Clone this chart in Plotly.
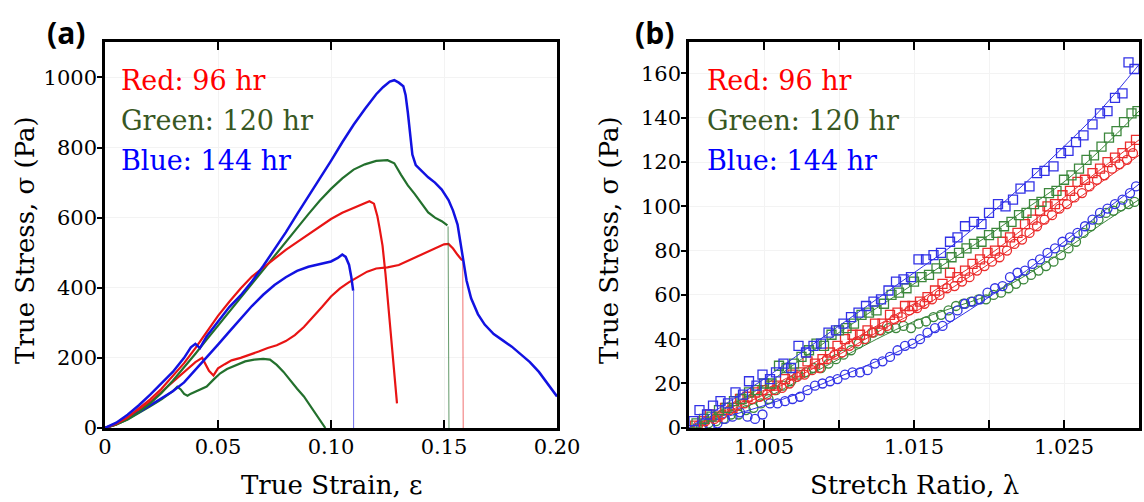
import plotly.graph_objects as go

# ---------------- Panel (a): true stress vs true strain ----------------
red1_eps = [0, 0.005, 0.010, 0.015, 0.020, 0.025, 0.030, 0.035, 0.040, 0.045, 0.050, 0.055, 0.060,
            0.065, 0.070, 0.075, 0.080, 0.085, 0.090, 0.095, 0.100, 0.105, 0.110, 0.114, 0.117,
            0.119, 0.1205, 0.1215, 0.1228, 0.1241, 0.1255, 0.1265, 0.1278, 0.1289, 0.1292]
red1_sig = [0, 12, 30, 55, 82, 112, 148, 185, 228, 275, 320, 360, 398,
            432, 458, 482, 508, 530, 552, 574, 596, 614, 628, 640, 647,
            640, 605, 570, 520, 440, 340, 250, 160, 85, 70]

red2_eps = [0, 0.005, 0.010, 0.015, 0.020, 0.025, 0.030, 0.035, 0.040, 0.043, 0.0445, 0.046, 0.048,
            0.050, 0.053, 0.056, 0.060, 0.064, 0.068, 0.072, 0.076, 0.080, 0.084, 0.088, 0.092,
            0.096, 0.100, 0.104, 0.108, 0.112, 0.116, 0.120, 0.125, 0.130, 0.135, 0.140, 0.145,
            0.150, 0.152, 0.154, 0.156, 0.158]
red2_sig = [0, 10, 28, 50, 75, 103, 132, 160, 188, 200, 180, 163, 150,
            170, 182, 193, 200, 208, 218, 228, 236, 248, 265, 288, 315,
            345, 375, 398, 416, 432, 446, 455, 458, 465, 480, 495, 510,
            524, 525, 512, 494, 478]
red2_break_eps = [0.1583, 0.1585]
red2_break_sig = [478, 0]

green1_eps = [0, 0.005, 0.010, 0.015, 0.020, 0.025, 0.030, 0.035, 0.040, 0.045, 0.050, 0.055, 0.060,
              0.065, 0.070, 0.075, 0.080, 0.085, 0.090, 0.095, 0.100, 0.105, 0.110, 0.115, 0.120,
              0.125, 0.128, 0.131, 0.134, 0.137, 0.140, 0.143, 0.146, 0.149, 0.1515]
green1_sig = [0, 10, 25, 45, 70, 100, 135, 172, 212, 252, 292, 332, 372,
              412, 452, 492, 530, 570, 610, 648, 682, 712, 737, 752, 762,
              764, 755, 722, 692, 668, 640, 615, 600, 590, 578]
green1_break_eps = [0.1518, 0.1522]
green1_break_sig = [575, 0]

green2_eps = [0, 0.005, 0.010, 0.015, 0.020, 0.025, 0.030, 0.032, 0.0335, 0.035, 0.0365, 0.038,
              0.040, 0.042, 0.045, 0.048, 0.051, 0.054, 0.058, 0.062, 0.066, 0.070, 0.073, 0.076,
              0.079, 0.082, 0.085, 0.088, 0.091, 0.094, 0.097, 0.0975]
green2_sig = [0, 10, 24, 42, 62, 82, 105, 118, 110, 97, 92, 98,
              104, 108, 118, 138, 156, 168, 180, 190, 195, 197, 195, 180,
              160, 135, 112, 90, 62, 35, 5, 0]

blue1_eps = [0, 0.005, 0.010, 0.015, 0.020, 0.025, 0.030, 0.035, 0.038, 0.040, 0.042, 0.045, 0.050,
             0.055, 0.060, 0.065, 0.070, 0.075, 0.080, 0.085, 0.090, 0.095, 0.100, 0.105, 0.110,
             0.115, 0.120, 0.123, 0.126, 0.128, 0.130, 0.132, 0.133, 0.134, 0.135, 0.136, 0.1375,
             0.140, 0.143, 0.146, 0.149, 0.152, 0.154, 0.156, 0.158, 0.160, 0.162, 0.165, 0.168,
             0.172, 0.176, 0.180, 0.184, 0.188, 0.192, 0.196, 0.200]
blue1_sig = [0, 15, 38, 65, 95, 127, 160, 200, 230, 240, 228, 262, 305,
             345, 378, 418, 462, 510, 558, 610, 660, 712, 762, 815, 865,
             910, 952, 972, 988, 992, 985, 975, 950, 900, 840, 780, 750,
             735, 715, 700, 680, 650, 620, 580, 500, 420, 370, 325, 295,
             268, 250, 232, 210, 188, 160, 125, 90]

blue2_eps = [0, 0.005, 0.010, 0.015, 0.020, 0.025, 0.030, 0.035, 0.040, 0.045, 0.050, 0.055, 0.060,
             0.065, 0.070, 0.075, 0.080, 0.085, 0.090, 0.095, 0.100, 0.103, 0.105, 0.1065, 0.108,
             0.109, 0.1098]
blue2_sig = [0, 12, 28, 45, 65, 85, 105, 130, 165, 200, 238, 275, 312,
             348, 380, 408, 430, 448, 460, 468, 475, 485, 495, 488, 465,
             430, 392]
blue2_break_eps = [0.1100, 0.1100]
blue2_break_sig = [392, 0]

strain_ticks = [0, 0.05, 0.10, 0.15, 0.20]
strain_labels = ["0", "0.05", "0.10", "0.15", "0.20"]
stress_a_ticks = [0, 200, 400, 600, 800, 1000]

# ---------------- Panel (b): true stress vs stretch ratio ----------------
bsq_lam = [1.0003, 1.0007, 1.0012, 1.0016, 1.0021, 1.0026, 1.0031, 1.0036, 1.0040, 1.0045, 1.0049,
           1.0054, 1.0058, 1.0063, 1.0068, 1.0073, 1.0078, 1.0083, 1.0088, 1.0093, 1.0098, 1.0103,
           1.0108, 1.0113, 1.0118, 1.0123, 1.0128, 1.0133, 1.0138, 1.0143, 1.0148, 1.0153, 1.0158,
           1.0163, 1.0168, 1.0174, 1.0179, 1.0184, 1.0190, 1.0195, 1.0200, 1.0206, 1.0211, 1.0216,
           1.0221, 1.0227, 1.0232, 1.0237, 1.0243, 1.0248, 1.0253, 1.0258, 1.0263, 1.0269, 1.0274,
           1.0279, 1.0284, 1.0289, 1.0293, 1.0297]
bsq_sig = [3, 8, 6, 10, 12, 11, 16, 15, 21, 19, 24,
           22, 25, 29, 27, 37, 34, 37, 38, 43, 44, 47,
           50, 52, 55, 57, 58, 62, 66, 67, 68, 76, 76,
           78, 79, 84, 86, 91, 93, 92, 97, 101, 100, 103,
           108, 109, 115, 116, 118, 124, 125, 129, 132, 137, 142,
           143, 149, 151, 165, 162]

gsq_lam = [1.0005, 1.0010, 1.0015, 1.0020, 1.0025, 1.0030, 1.0035, 1.0040, 1.0045, 1.0050, 1.0055,
           1.0060, 1.0065, 1.0070, 1.0075, 1.0080, 1.0085, 1.0090, 1.0095, 1.0100, 1.0105, 1.0110,
           1.0115, 1.0120, 1.0125, 1.0130, 1.0135, 1.0140, 1.0145, 1.0150, 1.0155, 1.0160, 1.0165,
           1.0170, 1.0175, 1.0180, 1.0185, 1.0190, 1.0195, 1.0200, 1.0205, 1.0210, 1.0215, 1.0220,
           1.0225, 1.0230, 1.0235, 1.0240, 1.0245, 1.0250, 1.0255, 1.0260, 1.0265, 1.0270, 1.0275,
           1.0280, 1.0285, 1.0290, 1.0295, 1.0299]
gsq_sig = [2, 4, 5, 8, 9, 12, 13, 16, 17, 20, 20,
           28, 27, 29, 32, 35, 38, 37, 42, 44, 45, 47,
           51, 52, 53, 56, 60, 61, 63, 66, 68, 69, 72,
           74, 77, 79, 81, 83, 84, 87, 88, 91, 93, 96,
           97, 101, 102, 106, 107, 112, 114, 117, 121, 123, 127,
           131, 134, 138, 142, 143]

rsq_lam = [1.0004, 1.0009, 1.0014, 1.0019, 1.0024, 1.0029, 1.0034, 1.0039, 1.0044, 1.0049, 1.0054,
           1.0059, 1.0064, 1.0069, 1.0074, 1.0079, 1.0084, 1.0089, 1.0094, 1.0099, 1.0104, 1.0109,
           1.0114, 1.0119, 1.0124, 1.0129, 1.0134, 1.0139, 1.0144, 1.0149, 1.0154, 1.0159, 1.0164,
           1.0169, 1.0174, 1.0179, 1.0184, 1.0189, 1.0194, 1.0199, 1.0204, 1.0209, 1.0214, 1.0219,
           1.0224, 1.0229, 1.0234, 1.0239, 1.0244, 1.0249, 1.0254, 1.0259, 1.0264, 1.0269, 1.0274,
           1.0279, 1.0284, 1.0289, 1.0294, 1.0298]
rsq_sig = [1, 3, 6, 5, 9, 9, 13, 14, 16, 17, 19,
           19, 22, 24, 25, 30, 29, 31, 34, 37, 40, 42,
           42, 44, 47, 47, 51, 52, 55, 55, 57, 59, 62,
           65, 70, 68, 71, 74, 76, 79, 80, 84, 86, 88,
           92, 94, 98, 100, 101, 105, 107, 111, 112, 115, 117,
           120, 122, 124, 127, 130]

rci_lam = [1.0006, 1.0011, 1.0017, 1.0022, 1.0027, 1.0032, 1.0037, 1.0042, 1.0047, 1.0052, 1.0057,
           1.0062, 1.0067, 1.0072, 1.0077, 1.0082, 1.0087, 1.0092, 1.0097, 1.0102, 1.0107, 1.0112,
           1.0117, 1.0122, 1.0127, 1.0132, 1.0137, 1.0142, 1.0147, 1.0152, 1.0157, 1.0162, 1.0167,
           1.0172, 1.0177, 1.0182, 1.0187, 1.0192, 1.0197, 1.0202, 1.0207, 1.0212, 1.0217, 1.0222,
           1.0227, 1.0232, 1.0237, 1.0242, 1.0247, 1.0252, 1.0257, 1.0262, 1.0267, 1.0272, 1.0277,
           1.0282, 1.0287, 1.0292, 1.0296]
rci_sig = [1, 3, 4, 6, 8, 10, 11, 13, 14, 15, 17,
           18, 20, 23, 24, 26, 27, 31, 33, 34, 37, 39,
           40, 43, 44, 46, 49, 50, 53, 54, 56, 58, 60,
           63, 64, 66, 68, 71, 73, 75, 77, 80, 83, 85,
           88, 91, 94, 96, 99, 101, 104, 106, 109, 112, 114,
           117, 119, 121, 124]

gci_lam = [1.0008, 1.0013, 1.0018, 1.0023, 1.0028, 1.0033, 1.0038, 1.0043, 1.0048, 1.0053, 1.0058,
           1.0063, 1.0068, 1.0073, 1.0078, 1.0083, 1.0088, 1.0093, 1.0098, 1.0103, 1.0108, 1.0113,
           1.0118, 1.0123, 1.0128, 1.0133, 1.0138, 1.0143, 1.0148, 1.0153, 1.0158, 1.0163, 1.0168,
           1.0173, 1.0178, 1.0183, 1.0188, 1.0193, 1.0198, 1.0203, 1.0208, 1.0213, 1.0218, 1.0223,
           1.0228, 1.0233, 1.0238, 1.0243, 1.0248, 1.0253, 1.0258, 1.0263, 1.0268, 1.0273, 1.0278,
           1.0283, 1.0288, 1.0293, 1.0297]
gci_sig = [0, 2, 3, 4, 6, 6, 8, 9, 11, 13, 17,
           19, 21, 24, 25, 27, 27, 29, 31, 33, 35, 38,
           40, 43, 44, 45, 45, 46, 45, 47, 48, 50, 51,
           53, 55, 56, 57, 58, 58, 60, 61, 63, 65, 67,
           69, 71, 73, 75, 78, 81, 84, 88, 91, 94, 97,
           98, 100, 101, 102]

bci_lam = [1.0009, 1.0014, 1.0019, 1.0024, 1.0029, 1.0034, 1.0039, 1.0044, 1.0049, 1.0054, 1.0059,
           1.0064, 1.0069, 1.0074, 1.0079, 1.0084, 1.0089, 1.0094, 1.0099, 1.0104, 1.0109, 1.0114,
           1.0119, 1.0124, 1.0129, 1.0134, 1.0139, 1.0144, 1.0149, 1.0154, 1.0159, 1.0164, 1.0169,
           1.0174, 1.0179, 1.0184, 1.0189, 1.0194, 1.0199, 1.0204, 1.0209, 1.0214, 1.0219, 1.0224,
           1.0229, 1.0234, 1.0239, 1.0244, 1.0249, 1.0254, 1.0259, 1.0264, 1.0269, 1.0274, 1.0279,
           1.0284, 1.0289, 1.0294, 1.0298]
bci_sig = [0, 1, 2, 4, 5, 7, 5, 4, 6, 11, 11,
           12, 13, 14, 17, 19, 20, 21, 22, 24, 25, 25,
           26, 29, 30, 32, 35, 37, 38, 40, 43, 45, 46,
           50, 53, 56, 57, 58, 61, 63, 64, 68, 70, 71,
           74, 76, 79, 81, 84, 86, 88, 91, 94, 97, 99,
           101, 103, 106, 109]

fit_lam = [1.000, 1.0025, 1.005, 1.0075, 1.010, 1.0125, 1.015, 1.0175, 1.020, 1.0225, 1.025, 1.0275, 1.030]
bsq_fit = [0, 11, 22, 34, 46, 58, 70, 82, 96, 111, 127, 144, 164]
gsq_fit = [0, 9, 19, 31, 43, 54, 65, 76, 87, 99, 111, 126, 143]
rsq_fit = [0, 8, 17, 26, 36, 46, 56, 67, 78, 91, 104, 117, 130]
rci_fit = [0, 7, 15, 24, 33, 43, 52, 63, 74, 86, 99, 111, 123]
gci_fit = [0, 6, 13, 22, 31, 40, 48, 54, 60, 69, 80, 92, 103]
bci_fit = [0, 5, 10, 16, 23, 30, 38, 48, 59, 71, 84, 97, 110]

lam_ticks = [1.005, 1.010, 1.015, 1.020, 1.025]
lam_labels = ["1.005", "", "1.015", "", "1.025"]
stress_b_ticks = [0, 20, 40, 60, 80, 100, 120, 140, 160]

legend_labels = ["Red: 96 hr", "Green: 120 hr", "Blue: 144 hr"]

# ---------------- styling ----------------
RED_A, GREEN_A, BLUE_A = "rgb(232,20,20)", "rgb(35,112,45)", "rgb(18,18,225)"
RED_B, GREEN_B, BLUE_B = "rgb(235,45,45)", "rgb(60,135,60)", "rgb(50,50,230)"
TXT_COLORS = ["#ff0000", "#385723", "#0000ff"]
SERIF = "DejaVu Serif"

fig = go.Figure()

def add_line(x, y, color, width=2.2, opacity=1.0):
    fig.add_trace(go.Scatter(x=x, y=y, mode="lines", xaxis="x", yaxis="y",
                             line=dict(color=color, width=width), opacity=opacity,
                             showlegend=False, hoverinfo="skip"))

add_line(green2_eps, green2_sig, GREEN_A)
add_line(red2_eps, red2_sig, RED_A)
add_line(red2_break_eps, red2_break_sig, RED_A, 1.0, 0.6)
add_line(blue2_eps, blue2_sig, BLUE_A, 2.5)
add_line(blue2_break_eps, blue2_break_sig, BLUE_A, 1.0, 0.6)
add_line(green1_eps, green1_sig, GREEN_A)
add_line(green1_break_eps, green1_break_sig, GREEN_A, 1.0, 0.7)
add_line(red1_eps, red1_sig, RED_A)
add_line(blue1_eps, blue1_sig, BLUE_A, 2.5)

def add_series(lam, sig, fit, color, symbol):
    fig.add_trace(go.Scatter(x=fit_lam, y=fit, mode="lines", xaxis="x2", yaxis="y2",
                             line=dict(color=color, width=1, shape="spline"),
                             showlegend=False, hoverinfo="skip"))
    fig.add_trace(go.Scatter(x=lam, y=sig, mode="markers", xaxis="x2", yaxis="y2",
                             marker=dict(symbol=symbol, size=9, color=color,
                                         line=dict(color=color, width=1.3)),
                             showlegend=False))

add_series(gci_lam, gci_sig, gci_fit, GREEN_B, "circle-open")
add_series(bci_lam, bci_sig, bci_fit, BLUE_B, "circle-open")
add_series(rci_lam, rci_sig, rci_fit, RED_B, "circle-open")
add_series(rsq_lam, rsq_sig, rsq_fit, RED_B, "square-open")
add_series(gsq_lam, gsq_sig, gsq_fit, GREEN_B, "square-open")
add_series(bsq_lam, bsq_sig, bsq_fit, BLUE_B, "square-open")

W, H = 1144, 502
ML, MR, MT, MB = 105, 5, 41.7, 73.5
PW, PH = W - ML - MR, H - MT - MB

def px_x(px):
    return (px - ML) / PW

def px_y(py):
    return (H - MB - py) / PH

tickfont = dict(family=SERIF, size=21, color="black")
common_x = dict(ticks="inside", ticklen=8, tickwidth=1.5, tickcolor="black",
                showline=True, linewidth=2.5, linecolor="black", mirror="ticks",
                showgrid=True, gridcolor="#f3f3f3", gridwidth=1, zeroline=False,
                tickfont=tickfont, automargin=False, ticklabelstandoff=-2)
common_y = dict(ticks="outside", ticklen=5, tickwidth=1.5, tickcolor="black",
                showline=True, linewidth=2.5, linecolor="black", mirror=True,
                showgrid=True, gridcolor="#f3f3f3", gridwidth=1, zeroline=False,
                tickfont=tickfont, automargin=False, ticklabelstandoff=-4)
right_y = dict(side="right", ticks="inside", ticklen=8, tickwidth=1.5, tickcolor="black",
               showticklabels=False, showline=False, showgrid=False, zeroline=False)

fig.update_layout(
    width=W, height=H, margin=dict(l=ML, r=MR, t=MT, b=MB),
    paper_bgcolor="white", plot_bgcolor="white", showlegend=False,
    xaxis=dict(domain=[0, px_x(557)], range=[0, 0.2], anchor="y",
               tickvals=strain_ticks, ticktext=strain_labels, **common_x),
    yaxis=dict(domain=[0, 1], range=[0, 1101], anchor="x", tickvals=stress_a_ticks, **common_y),
    yaxis3=dict(overlaying="y", anchor="x", range=[0, 1101], tickvals=stress_a_ticks, **right_y),
    xaxis2=dict(domain=[px_x(689), 1], range=[1.000, 1.030], anchor="y2",
                tickvals=lam_ticks, ticktext=lam_labels, **common_x),
    yaxis2=dict(domain=[0, 1], range=[-0.1, 174.2], anchor="x2", tickvals=stress_b_ticks, **common_y),
    yaxis4=dict(overlaying="y2", anchor="x2", range=[-0.1, 174.2], tickvals=stress_b_ticks, **right_y),
)

annotations = []
# panel letters
for txt, cx in [("(a)", 66), ("(b)", 654)]:
    annotations.append(dict(text="<b>" + txt + "</b>", x=px_x(cx), y=px_y(32), xref="paper", yref="paper",
                            xanchor="center", yanchor="middle", showarrow=False,
                            font=dict(family="Open Sans", size=30, color="black")))
# colour key texts
for i, (lab, col) in enumerate(zip(legend_labels, TXT_COLORS)):
    cy = 80 + 40 * i
    for left in (119, 705):
        annotations.append(dict(text=lab, x=px_x(left), y=px_y(cy), xref="paper", yref="paper",
                                xanchor="left", yanchor="middle", showarrow=False,
                                font=dict(family=SERIF, size=27, color=col)))
# axis titles
title_font = dict(family=SERIF, size=26, color="black")
annotations += [
    dict(text="True Strain, ε", x=px_x(331), y=px_y(486), xref="paper", yref="paper",
         xanchor="center", yanchor="middle", showarrow=False, font=title_font),
    dict(text="Stretch Ratio, λ", x=px_x(914), y=px_y(486), xref="paper", yref="paper",
         xanchor="center", yanchor="middle", showarrow=False, font=title_font),
    dict(text="True Stress, σ (Pa)", x=px_x(25), y=px_y(240), xref="paper", yref="paper",
         xanchor="center", yanchor="middle", textangle=-90, showarrow=False, font=title_font),
    dict(text="True Stress, σ (Pa)", x=px_x(609), y=px_y(240), xref="paper", yref="paper",
         xanchor="center", yanchor="middle", textangle=-90, showarrow=False, font=title_font),
]
fig.update_layout(annotations=annotations)

fig.write_html("out.html", config={"displayModeBar": False},
               post_script="document.body.style.margin='0';")
